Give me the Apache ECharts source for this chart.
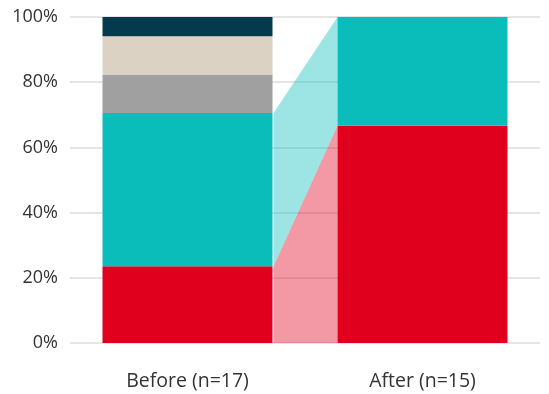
<!DOCTYPE html>
<html><head><meta charset="utf-8">
<script src="https://cdn.jsdelivr.net/npm/echarts@6/dist/echarts.min.js"></script>
<style>html,body{margin:0;padding:0;background:#fff}#c{width:549px;height:394px}</style>
</head><body><div id="c"></div>
<script>
const categories = ['Before (n=17)', 'After (n=15)'];
const seriesNames = ['Red', 'Teal', 'Gray', 'Beige', 'Navy'];
const redValues = [4/17*100, 10/15*100];
const tealValues = [8/17*100, 5/15*100];
const grayValues = [2/17*100, 0];
const beigeValues = [2/17*100, 0];
const navyValues = [1/17*100, 0];
const yTicks = [0, 20, 40, 60, 80, 100];

const colors = ['#e0001e', '#0abdbb', '#a0a0a0', '#dbd2c4', '#033a4e'];
const allValues = [redValues, tealValues, grayValues, beigeValues, navyValues];
const BAR_W = 170;
const FONT = 'Open Sans';

const chart = echarts.init(document.getElementById('c'));

const barSeries = allValues.map((vals, i) => ({
  name: seriesNames[i],
  type: 'bar',
  stack: 'total',
  barWidth: BAR_W,
  itemStyle: { color: colors[i] },
  data: vals.map(v => v > 0 ? v : null),
  z: 3
}));

const bandData = [];
let cumB = 0, cumA = 0;
allValues.forEach((vals, i) => {
  const b0 = cumB, b1 = cumB + vals[0];
  const a0 = cumA, a1 = cumA + vals[1];
  cumB = b1; cumA = a1;
  if (vals[0] > 0 && vals[1] > 0) bandData.push([b0, b1, a0, a1, i]);
});

const bandSeries = {
  type: 'custom',
  silent: true,
  z: 1,
  renderItem: function (params, api) {
    const b0 = api.value(0), b1 = api.value(1), a0 = api.value(2), a1 = api.value(3), ci = api.value(4);
    const p0 = api.coord([0, b0]), p1 = api.coord([0, b1]);
    const q0 = api.coord([1, a0]), q1 = api.coord([1, a1]);
    const xl = p0[0] + BAR_W / 2 + 1, xr = q0[0] - BAR_W / 2;
    return {
      type: 'polygon',
      shape: { points: [[xl, p0[1]], [xl, p1[1]], [xr, q1[1]], [xr, q0[1]]] },
      style: { fill: colors[ci], opacity: 0.4 }
    };
  },
  encode: { x: -1, y: [0, 1] },
  data: bandData
};

chart.setOption({
  animation: false,
  grid: { left: 70, right: 9, top: 17, bottom: 51, containLabel: false },
  xAxis: {
    type: 'category',
    data: categories,
    axisLine: { show: false },
    axisTick: { show: false },
    axisLabel: { fontFamily: FONT, fontSize: 19.5, color: '#333', margin: 28 }
  },
  yAxis: {
    type: 'value',
    min: yTicks[0], max: yTicks[yTicks.length - 1], interval: 20,
    axisLine: { show: false },
    axisTick: { show: false },
    splitLine: { lineStyle: { color: '#dcdcdc', width: 1.5 } },
    axisLabel: { fontFamily: FONT, fontSize: 18, color: '#333', margin: 12, formatter: v => v + '%' }
  },
  series: [...barSeries, bandSeries]
});
</script></body></html>
